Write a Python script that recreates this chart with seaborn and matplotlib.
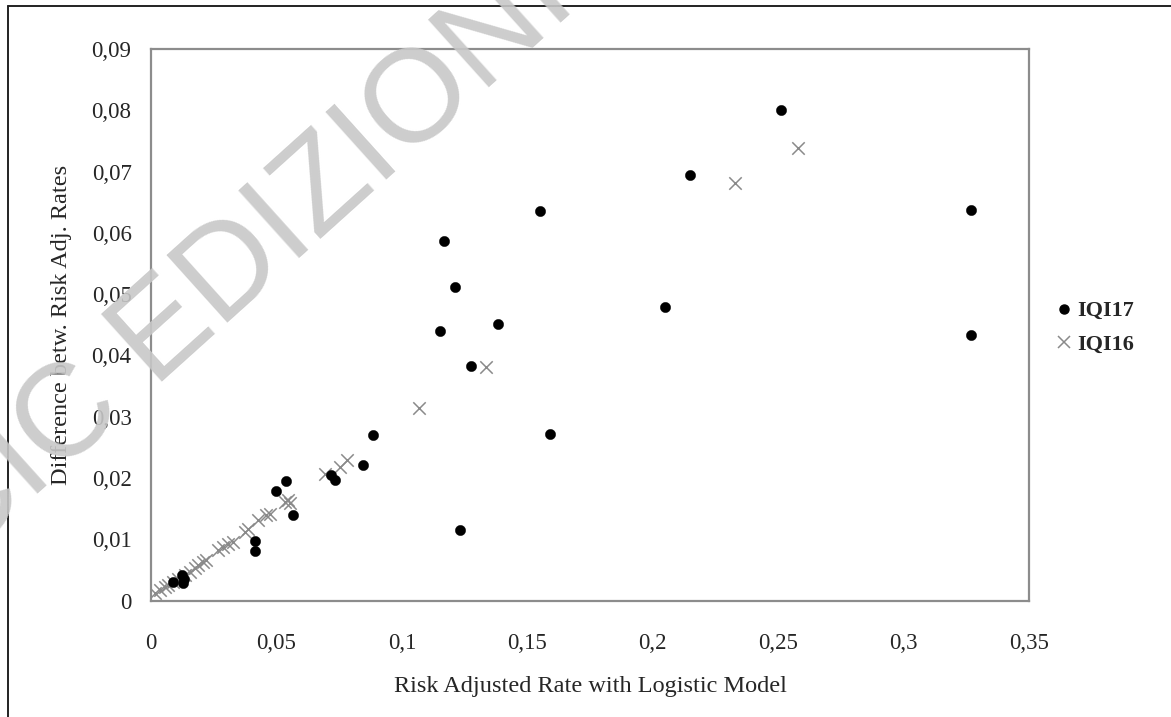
import matplotlib
matplotlib.use("Agg")
import matplotlib.pyplot as plt
import seaborn as sns
import pandas as pd
from matplotlib.lines import Line2D

# values
iqi17_x = [0.0089, 0.0122, 0.0128, 0.0130, 0.0415, 0.0416, 0.0498, 0.0538, 0.0565,
           0.0719, 0.0733, 0.0846, 0.0884, 0.1153, 0.1168, 0.1212, 0.1232, 0.1274,
           0.1384, 0.1550, 0.1589, 0.2047, 0.2148, 0.2511, 0.3270, 0.3270]
iqi17_y = [0.0030, 0.0042, 0.0028, 0.0036, 0.0097, 0.0081, 0.0178, 0.0195, 0.0139,
           0.0205, 0.0197, 0.0222, 0.0270, 0.0439, 0.0587, 0.0511, 0.0115, 0.0383,
           0.0451, 0.0636, 0.0271, 0.0479, 0.0694, 0.0801, 0.0637, 0.0433]

iqi16_x = [0.0015, 0.0035, 0.0055, 0.0068, 0.0088, 0.0108, 0.0134, 0.0154, 0.0174,
           0.0187, 0.0207, 0.0220, 0.0267, 0.0287, 0.0307, 0.0327, 0.0373, 0.0387,
           0.0426, 0.0460, 0.0473, 0.0533, 0.0546, 0.0555, 0.0693, 0.0753, 0.0780,
           0.1067, 0.1334, 0.2329, 0.2580]
iqi16_y = [0.0012, 0.0017, 0.0022, 0.0025, 0.0031, 0.0035, 0.0042, 0.0047, 0.0053,
           0.0058, 0.0063, 0.0066, 0.0083, 0.0088, 0.0093, 0.0096, 0.0112, 0.0116,
           0.0131, 0.0140, 0.0141, 0.0161, 0.0164, 0.0160, 0.0207, 0.0218, 0.0229,
           0.0315, 0.0381, 0.0681, 0.0738]

x_ticks = [0, 0.05, 0.1, 0.15, 0.2, 0.25, 0.3, 0.35]
x_labels = ["0", "0,05", "0,1", "0,15", "0,2", "0,25", "0,3", "0,35"]
y_ticks = [0, 0.01, 0.02, 0.03, 0.04, 0.05, 0.06, 0.07, 0.08, 0.09]
y_labels = ["0", "0,01", "0,02", "0,03", "0,04", "0,05", "0,06", "0,07", "0,08", "0,09"]

df17 = pd.DataFrame({"x": iqi17_x, "y": iqi17_y})
df16 = pd.DataFrame({"x": iqi16_x, "y": iqi16_y})

sns.set_style("white")
plt.rcParams["font.family"] = ["Liberation Serif", "DejaVu Serif"]

fig = plt.figure(figsize=(11.71, 7.17), dpi=100)
ax = fig.add_axes([151 / 1171, 1 - 600.6 / 717, 878 / 1171, 551.7 / 717])

sns.scatterplot(data=df16, x="x", y="y", marker="x", color="#8a8a8a", s=80,
                linewidth=1.1, ax=ax, zorder=3)
sns.scatterplot(data=df17, x="x", y="y", marker="o", color="black", s=55,
                edgecolor="black", linewidth=0.3, ax=ax, zorder=4)

ax.set_xlim(0, 0.35)
ax.set_ylim(0, 0.09)
ax.set_xticks(x_ticks)
ax.set_xticklabels(x_labels)
ax.set_yticks(y_ticks)
ax.set_yticklabels(y_labels)
ax.tick_params(axis="x", direction="out", length=6, width=1.3, color="#808080",
               pad=17, labelsize=16.5)
ax.tick_params(axis="y", direction="out", length=6, width=1.3, color="#808080",
               pad=8, labelsize=16.5)
for sp in ax.spines.values():
    sp.set_color("#8c8c8c")
    sp.set_linewidth(1.6)
    sp.set_visible(True)

ax.set_xlabel("Risk Adjusted Rate with Logistic Model", fontsize=17.5, labelpad=16)
ax.set_ylabel("Difference betw. Risk Adj. Rates", fontsize=17.5, labelpad=14)

handles = [
    Line2D([], [], marker="o", color="black", linestyle="", markersize=6.5),
    Line2D([], [], marker="x", color="#8a8a8a", linestyle="", markersize=9, markeredgewidth=1.1),
]
fig.legend(handles, ["IQI17", "IQI16"], loc="center left", bbox_to_anchor=(0.8935, 0.5425),
           frameon=False, handlelength=0.6, handletextpad=0.3, labelspacing=0.6,
           borderpad=0, prop={"weight": "bold", "size": 16})

# outer frame of the original image
fig.add_artist(Line2D([8 / 1171, 8 / 1171], [0, 1 - 6 / 717], color="#222222", lw=1.4))
fig.add_artist(Line2D([8 / 1171, 1], [1 - 6 / 717, 1 - 6 / 717], color="#222222", lw=1.4))

# watermark
fig.text(-42 / 1171, 1 - 565 / 717, "CIC EDIZIONI INTERNAZIONALI", rotation=42,
         rotation_mode="anchor", ha="left", va="baseline", fontsize=95,
         family="Liberation Sans", color="#c8c8c8", alpha=0.9, zorder=10)

fig.savefig("out.png", dpi=100)
